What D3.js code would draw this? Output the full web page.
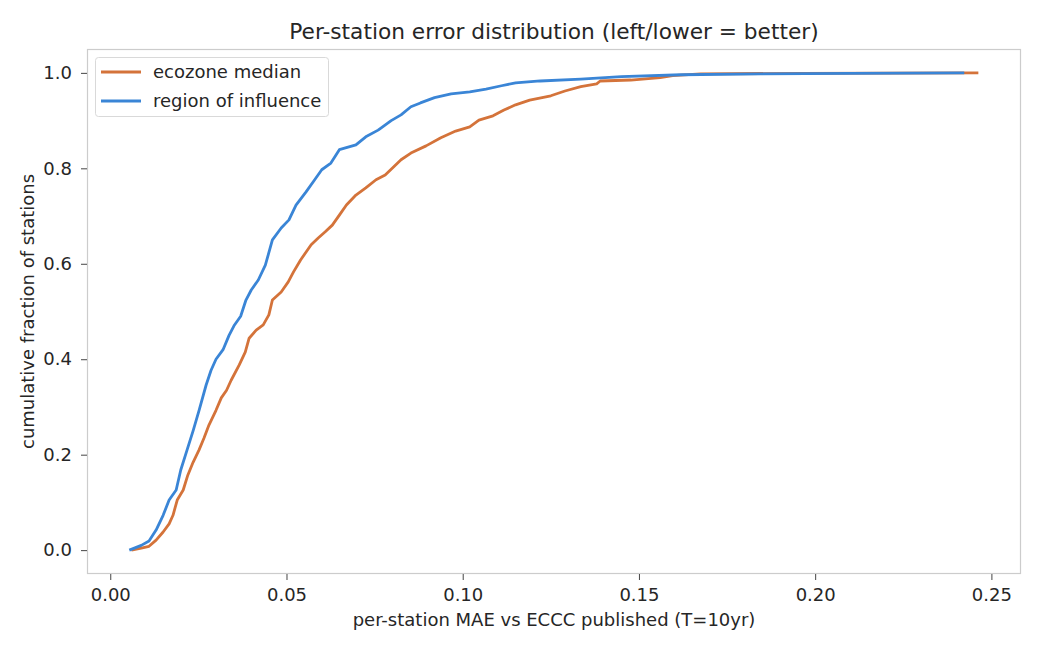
<!DOCTYPE html>
<html>
<head>
<meta charset="utf-8">
<script src="https://cdn.jsdelivr.net/npm/d3@7"></script>
<style>
  body { margin: 0; background: #fff; }
  svg { font-family: "DejaVu Sans", sans-serif; }
</style>
</head>
<body>
<div id="chart"></div>
<script>
    'use strict';

    // per-station MAE (x) and cumulative fraction (y)
    var ecozoneX = [0.0060, 0.0088, 0.0110, 0.0130, 0.0150, 0.0167, 0.0178, 0.0190, 0.0207, 0.0220,
        0.0235, 0.0252, 0.0266, 0.0280, 0.0300, 0.0315, 0.0330, 0.0343, 0.0366, 0.0383,
        0.0394, 0.0414, 0.0434, 0.0450, 0.0460, 0.0485, 0.0505, 0.0520, 0.0540, 0.0570,
        0.0590, 0.0610, 0.0630, 0.0650, 0.0670, 0.0697, 0.0725, 0.0754, 0.0780, 0.0800,
        0.0825, 0.0853, 0.0896, 0.0938, 0.0980, 0.1020, 0.1046, 0.1086, 0.1117, 0.1150,
        0.1190, 0.1250, 0.1290, 0.1335, 0.1380, 0.1390, 0.1477, 0.1560, 0.1596, 0.1675,
        0.1960, 0.2463];
    var ecozoneY = [0.000, 0.004, 0.008, 0.021, 0.038, 0.055, 0.073, 0.105, 0.126, 0.157,
        0.184, 0.210, 0.235, 0.262, 0.293, 0.319, 0.335, 0.356, 0.388, 0.415,
        0.444, 0.461, 0.472, 0.493, 0.524, 0.541, 0.562, 0.583, 0.608, 0.640,
        0.654, 0.667, 0.681, 0.702, 0.723, 0.744, 0.759, 0.776, 0.786, 0.800,
        0.818, 0.832, 0.847, 0.864, 0.878, 0.887, 0.901, 0.910, 0.922, 0.933,
        0.943, 0.952, 0.962, 0.971, 0.977, 0.983, 0.985, 0.990, 0.994, 0.998,
        0.999, 1.000];

    var roiX = [0.0054, 0.0088, 0.0110, 0.0130, 0.0150, 0.0167, 0.0187, 0.0200, 0.0218, 0.0235,
        0.0252, 0.0272, 0.0286, 0.0300, 0.0320, 0.0337, 0.0351, 0.0370, 0.0385, 0.0400,
        0.0420, 0.0440, 0.0460, 0.0485, 0.0507, 0.0527, 0.0555, 0.0580, 0.0600, 0.0626,
        0.0650, 0.0697, 0.0725, 0.0760, 0.0797, 0.0825, 0.0853, 0.0880, 0.0920, 0.0967,
        0.1020, 0.1066, 0.1110, 0.1150, 0.1220, 0.1335, 0.1450, 0.1620, 0.1845, 0.2100,
        0.2423];
    var roiY = [0.000, 0.010, 0.019, 0.042, 0.073, 0.105, 0.126, 0.168, 0.210, 0.250,
        0.293, 0.346, 0.377, 0.400, 0.420, 0.450, 0.470, 0.490, 0.524, 0.545,
        0.566, 0.597, 0.650, 0.675, 0.692, 0.723, 0.750, 0.776, 0.797, 0.811,
        0.839, 0.849, 0.866, 0.880, 0.900, 0.912, 0.929, 0.937, 0.948, 0.956,
        0.960, 0.966, 0.973, 0.979, 0.983, 0.987, 0.992, 0.996, 0.998, 0.999,
        1.000];

    var seriesNames = ['ecozone median', 'region of influence'];
    var seriesColors = ['#d4733a', '#3a85d6'];
    var xTicks = [0.00, 0.05, 0.10, 0.15, 0.20, 0.25];
    var yTicks = [0.0, 0.2, 0.4, 0.6, 0.8, 1.0];

    var width = 1040, height = 650;
    var margin = { top: 49, right: 19, bottom: 76, left: 87 };
    var fontSize = '18px';

    var svg = d3.select('#chart').append('svg')
        .attr('width', width)
        .attr('height', height);

    var x = d3.scaleLinear().domain([-0.0066, 0.2584])
        .range([margin.left, width - margin.right]);
    var y = d3.scaleLinear().domain([-0.05, 1.05])
        .range([height - margin.bottom, margin.top]);

    // frame
    svg.append('rect')
        .attr('x', margin.left + 0.5)
        .attr('y', margin.top + 0.5)
        .attr('width', width - margin.left - margin.right - 1)
        .attr('height', height - margin.top - margin.bottom - 1)
        .attr('fill', 'none')
        .attr('stroke', '#cccccc')
        .attr('stroke-width', 1.2);

    var xAxis = svg.append('g')
        .attr('transform', 'translate(0,' + (height - margin.bottom) + ')')
        .call(d3.axisBottom(x).tickValues(xTicks).tickFormat(d3.format('.2f')).tickSize(6).tickPadding(8));
    var yAxis = svg.append('g')
        .attr('transform', 'translate(' + margin.left + ',0)')
        .call(d3.axisLeft(y).tickValues(yTicks).tickFormat(d3.format('.1f')).tickSize(6).tickPadding(9));

    [xAxis, yAxis].forEach(function (ax) {
        ax.select('.domain').remove();
        ax.selectAll('.tick line').attr('stroke', '#444').attr('stroke-width', 1);
        ax.selectAll('.tick text')
            .attr('fill', '#262626')
            .style('font-size', fontSize)
            .style('font-family', '"DejaVu Sans", sans-serif');
    });

    var line = d3.line()
        .x(function (d) { return x(d[0]); })
        .y(function (d) { return y(d[1]); });

    var series = [
        { name: seriesNames[0], color: seriesColors[0], pts: d3.zip(ecozoneX, ecozoneY) },
        { name: seriesNames[1], color: seriesColors[1], pts: d3.zip(roiX, roiY) }
    ];

    svg.selectAll('.series')
        .data(series)
        .enter()
        .append('path')
        .attr('class', 'series')
        .attr('d', function (d) { return line(d.pts); })
        .attr('fill', 'none')
        .attr('stroke', function (d) { return d.color; })
        .attr('stroke-width', 2.8)
        .attr('stroke-linejoin', 'round');

    // legend
    var legend = svg.append('g').attr('transform', 'translate(95,57)');
    legend.append('rect')
        .attr('x', 0.5).attr('y', 0.5)
        .attr('width', 233).attr('height', 59)
        .attr('rx', 3)
        .attr('fill', '#fff')
        .attr('fill-opacity', 0.8)
        .attr('stroke', '#d9d9d9');
    series.forEach(function (s, i) {
        var row = legend.append('g').attr('transform', 'translate(0,' + (15 + i * 29) + ')');
        row.append('line')
            .attr('x1', 6).attr('x2', 46)
            .attr('stroke', s.color).attr('stroke-width', 2.8);
        row.append('text')
            .attr('x', 58).attr('dy', '0.35em')
            .attr('fill', '#262626')
            .style('font-size', fontSize)
            .text(s.name);
    });

    svg.append('text')
        .attr('x', (margin.left + width - margin.right) / 2)
        .attr('y', 39)
        .attr('text-anchor', 'middle')
        .attr('fill', '#262626')
        .style('font-size', '21.7px')
        .text('Per-station error distribution (left/lower = better)');

    svg.append('text')
        .attr('x', (margin.left + width - margin.right) / 2)
        .attr('y', 626)
        .attr('text-anchor', 'middle')
        .attr('fill', '#262626')
        .style('font-size', fontSize)
        .text('per-station MAE vs ECCC published (T=10yr)');

    svg.append('text')
        .attr('transform', 'translate(34,' + ((margin.top + height - margin.bottom) / 2) + ') rotate(-90)')
        .attr('text-anchor', 'middle')
        .attr('fill', '#262626')
        .style('font-size', fontSize)
        .text('cumulative fraction of stations');
</script>
</body>
</html>
